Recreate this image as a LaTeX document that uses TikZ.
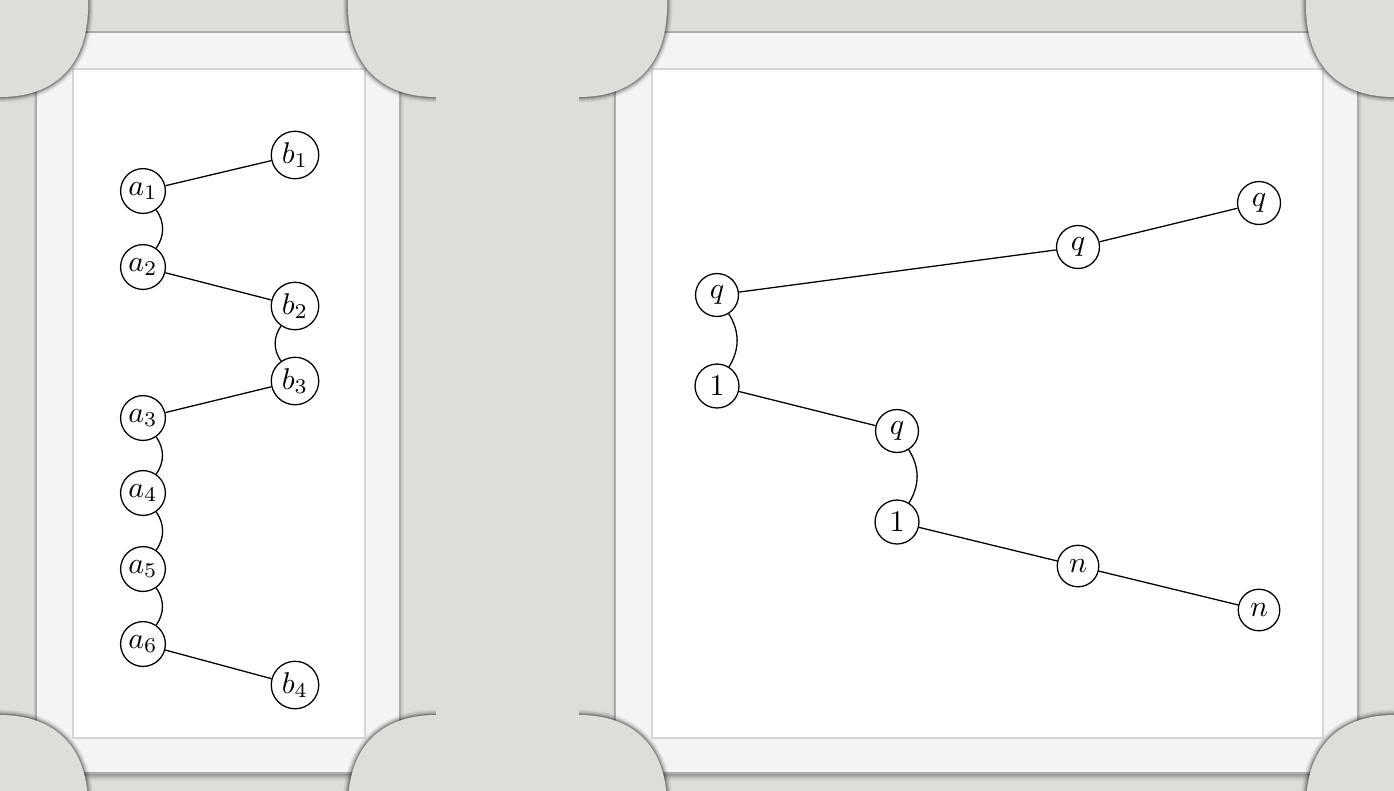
\documentclass[tikz,border=0pt]{standalone}
\usepackage{xcolor}
\definecolor{bg}{RGB}{220,222,216}
\definecolor{framec}{RGB}{244,244,242}
\definecolor{edgec}{RGB}{172,172,169}
\definecolor{innerc}{RGB}{214,214,212}
\begin{document}
\begin{tikzpicture}[x=0.333333pt,y=-0.333333pt,
  lnode/.style={circle,draw,line width=0.43pt,inner sep=1.3pt},
  rnode/.style={circle,draw,line width=0.43pt,inner sep=2.3pt},
  edge/.style={line width=0.43pt}]
\useasboundingbox (0,0) rectangle (1394,790);
\fill[bg] (-10,-10) rectangle (1404,800);
% frames
\foreach \l/\r in {36/400, 615/1358} {
  \foreach \o/\op in {1/0.32,2/0.26,3/0.20,4/0.15,5/0.10,6/0.07,7/0.04}
    \draw[black,opacity=\op,line width=0.3333pt] (\l+20,773+\o) -- (\r-20,773+\o);
  \foreach \o/\op in {1/0.10,2/0.06,3/0.03}{
    \draw[black,opacity=\op,line width=0.3333pt] (\l-\o,40) -- (\l-\o,770);
    \draw[black,opacity=\op,line width=0.3333pt] (\r+\o,40) -- (\r+\o,770);
  }
  \filldraw[fill=framec,draw=edgec,line width=0.4pt] (\l,32) rectangle (\r,773);
  \filldraw[fill=white,draw=innerc,line width=0.4pt] (\l+37,69) rectangle (\r-35,738);
}
% corner curls
\foreach \cx/\cy/\sx/\sy in {0/0/1/1, 436/0/-1/1, 0/812/1/-1, 436/812/-1/-1, 579/0/1/1, 1394/0/-1/1, 579/812/1/-1, 1394/812/-1/-1} {
  \foreach \w/\op in {3.6/0.06, 2.6/0.09, 1.7/0.14, 0.9/0.22}
    \draw[black,line width=\w pt,opacity=\op] ({\cx+\sx*88},{\cy}) .. controls ({\cx+\sx*90},{\cy+\sy*65}) and ({\cx+\sx*55},{\cy+\sy*97}) .. ({\cx},{\cy+\sy*97});
  \fill[bg] ({\cx+\sx*88},{\cy-\sy*6}) -- ({\cx+\sx*88},{\cy}) .. controls ({\cx+\sx*90},{\cy+\sy*65}) and ({\cx+\sx*55},{\cy+\sy*97}) .. ({\cx},{\cy+\sy*97}) -- ({\cx-\sx*6},{\cy+\sy*97}) -- ({\cx-\sx*6},{\cy-\sy*6}) -- cycle;
}
% left graph
\node[lnode] (a1) at (143,191) {$a_1$};
\node[lnode] (b1) at (295,155) {$b_1$};
\node[lnode] (a2) at (143,267) {$a_2$};
\node[lnode] (b2) at (295,306) {$b_2$};
\node[lnode] (b3) at (295,381) {$b_3$};
\node[lnode] (a3) at (143,418) {$a_3$};
\node[lnode] (a4) at (143,493) {$a_4$};
\node[lnode] (a5) at (143,569) {$a_5$};
\node[lnode] (a6) at (143,644) {$a_6$};
\node[lnode] (b4) at (295,685) {$b_4$};
\draw[edge] (a1) -- (b1);
\draw[edge] (a1) to[bend left=35] (a2);
\draw[edge] (a2) -- (b2);
\draw[edge] (b2) to[bend right=35] (b3);
\draw[edge] (b3) -- (a3);
\draw[edge] (a3) to[bend left=35] (a4);
\draw[edge] (a4) to[bend left=35] (a5);
\draw[edge] (a5) to[bend left=35] (a6);
\draw[edge] (a6) -- (b4);
% right graph
\node[rnode] (q1) at (717,295) {$q$};
\node[rnode] (o1) at (717,386) {$1$};
\node[rnode] (q2) at (897,431) {$q$};
\node[rnode] (o2) at (897,522) {$1$};
\node[rnode] (n1) at (1078,566) {$n$};
\node[rnode] (n2) at (1259,610) {$n$};
\node[rnode] (q3) at (1078,247) {$q$};
\node[rnode] (q4) at (1259,203) {$q$};
\draw[edge] (q1) -- (q3);
\draw[edge] (q3) -- (q4);
\draw[edge] (q1) to[bend left=32] (o1);
\draw[edge] (o1) -- (q2);
\draw[edge] (q2) to[bend left=32] (o2);
\draw[edge] (o2) -- (n1);
\draw[edge] (n1) -- (n2);
\end{tikzpicture}
\end{document}
